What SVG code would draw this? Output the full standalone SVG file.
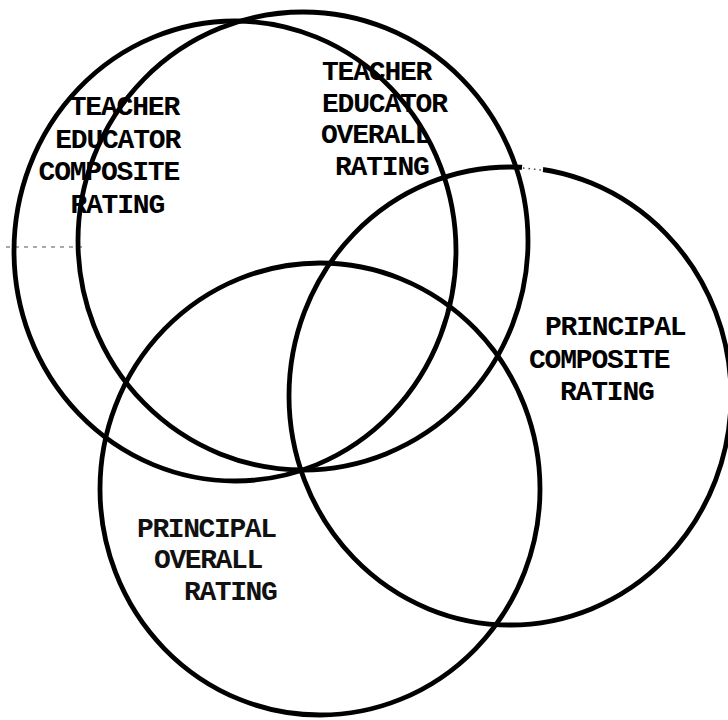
<svg xmlns="http://www.w3.org/2000/svg" width="728" height="720" viewBox="0 0 728 720">
<style>
.c{fill:none;stroke:#000;stroke-width:4.8}
.t{font-family:"Liberation Mono","Courier New",monospace;font-size:28px;font-weight:bold;letter-spacing:-1.2px;fill:#000}
.p{font-family:"Liberation Mono","Courier New",monospace;font-size:28px;font-weight:bold;letter-spacing:-1.4px;fill:#111}
</style>
<rect width="728" height="720" fill="#fff"/>
<g id="connectors">
<line x1="6" y1="247" x2="84" y2="247" stroke="#555" stroke-width="1.2" stroke-dasharray="4 5"/>
</g>
<g id="te-composite">
<ellipse class="c" cx="235" cy="251" rx="221" ry="230"/>
<text class="t" x="179" y="115" text-anchor="end">TEACHER</text>
<text class="t" x="180" y="148" text-anchor="end">EDUCATOR</text>
<text class="t" x="179" y="180" text-anchor="end">COMPOSITE</text>
<text class="t" x="164" y="213" text-anchor="end">RATING</text>
</g>
<g id="te-overall">
<ellipse class="c" cx="303" cy="241" rx="225" ry="229"/>
<text class="t" x="322" y="80">TEACHER</text>
<text class="t" x="322" y="112">EDUCATOR</text>
<text class="t" x="321" y="143">OVERALL</text>
<text class="t" x="335" y="175">RATING</text>
</g>
<g id="principal-composite">
<ellipse class="c" cx="510" cy="396" rx="221" ry="229"/>
<line x1="522" y1="167.5" x2="543" y2="169.5" stroke="#fff" stroke-width="7"/>
<line x1="523" y1="168" x2="542" y2="170" stroke="#444" stroke-width="1.5" stroke-dasharray="1.5 4"/>
<text class="t" x="545" y="335">PRINCIPAL</text>
<text class="t" x="529" y="368">COMPOSITE</text>
<text class="t" x="560" y="400">RATING</text>
</g>
<g id="principal-overall">
<ellipse class="c" cx="320" cy="489" rx="220" ry="226"/>
<text class="p" x="137" y="537">PRINCIPAL</text>
<text class="p" x="154" y="568">OVERALL</text>
<text class="p" x="184" y="600">RATING</text>
</g>
</svg>
